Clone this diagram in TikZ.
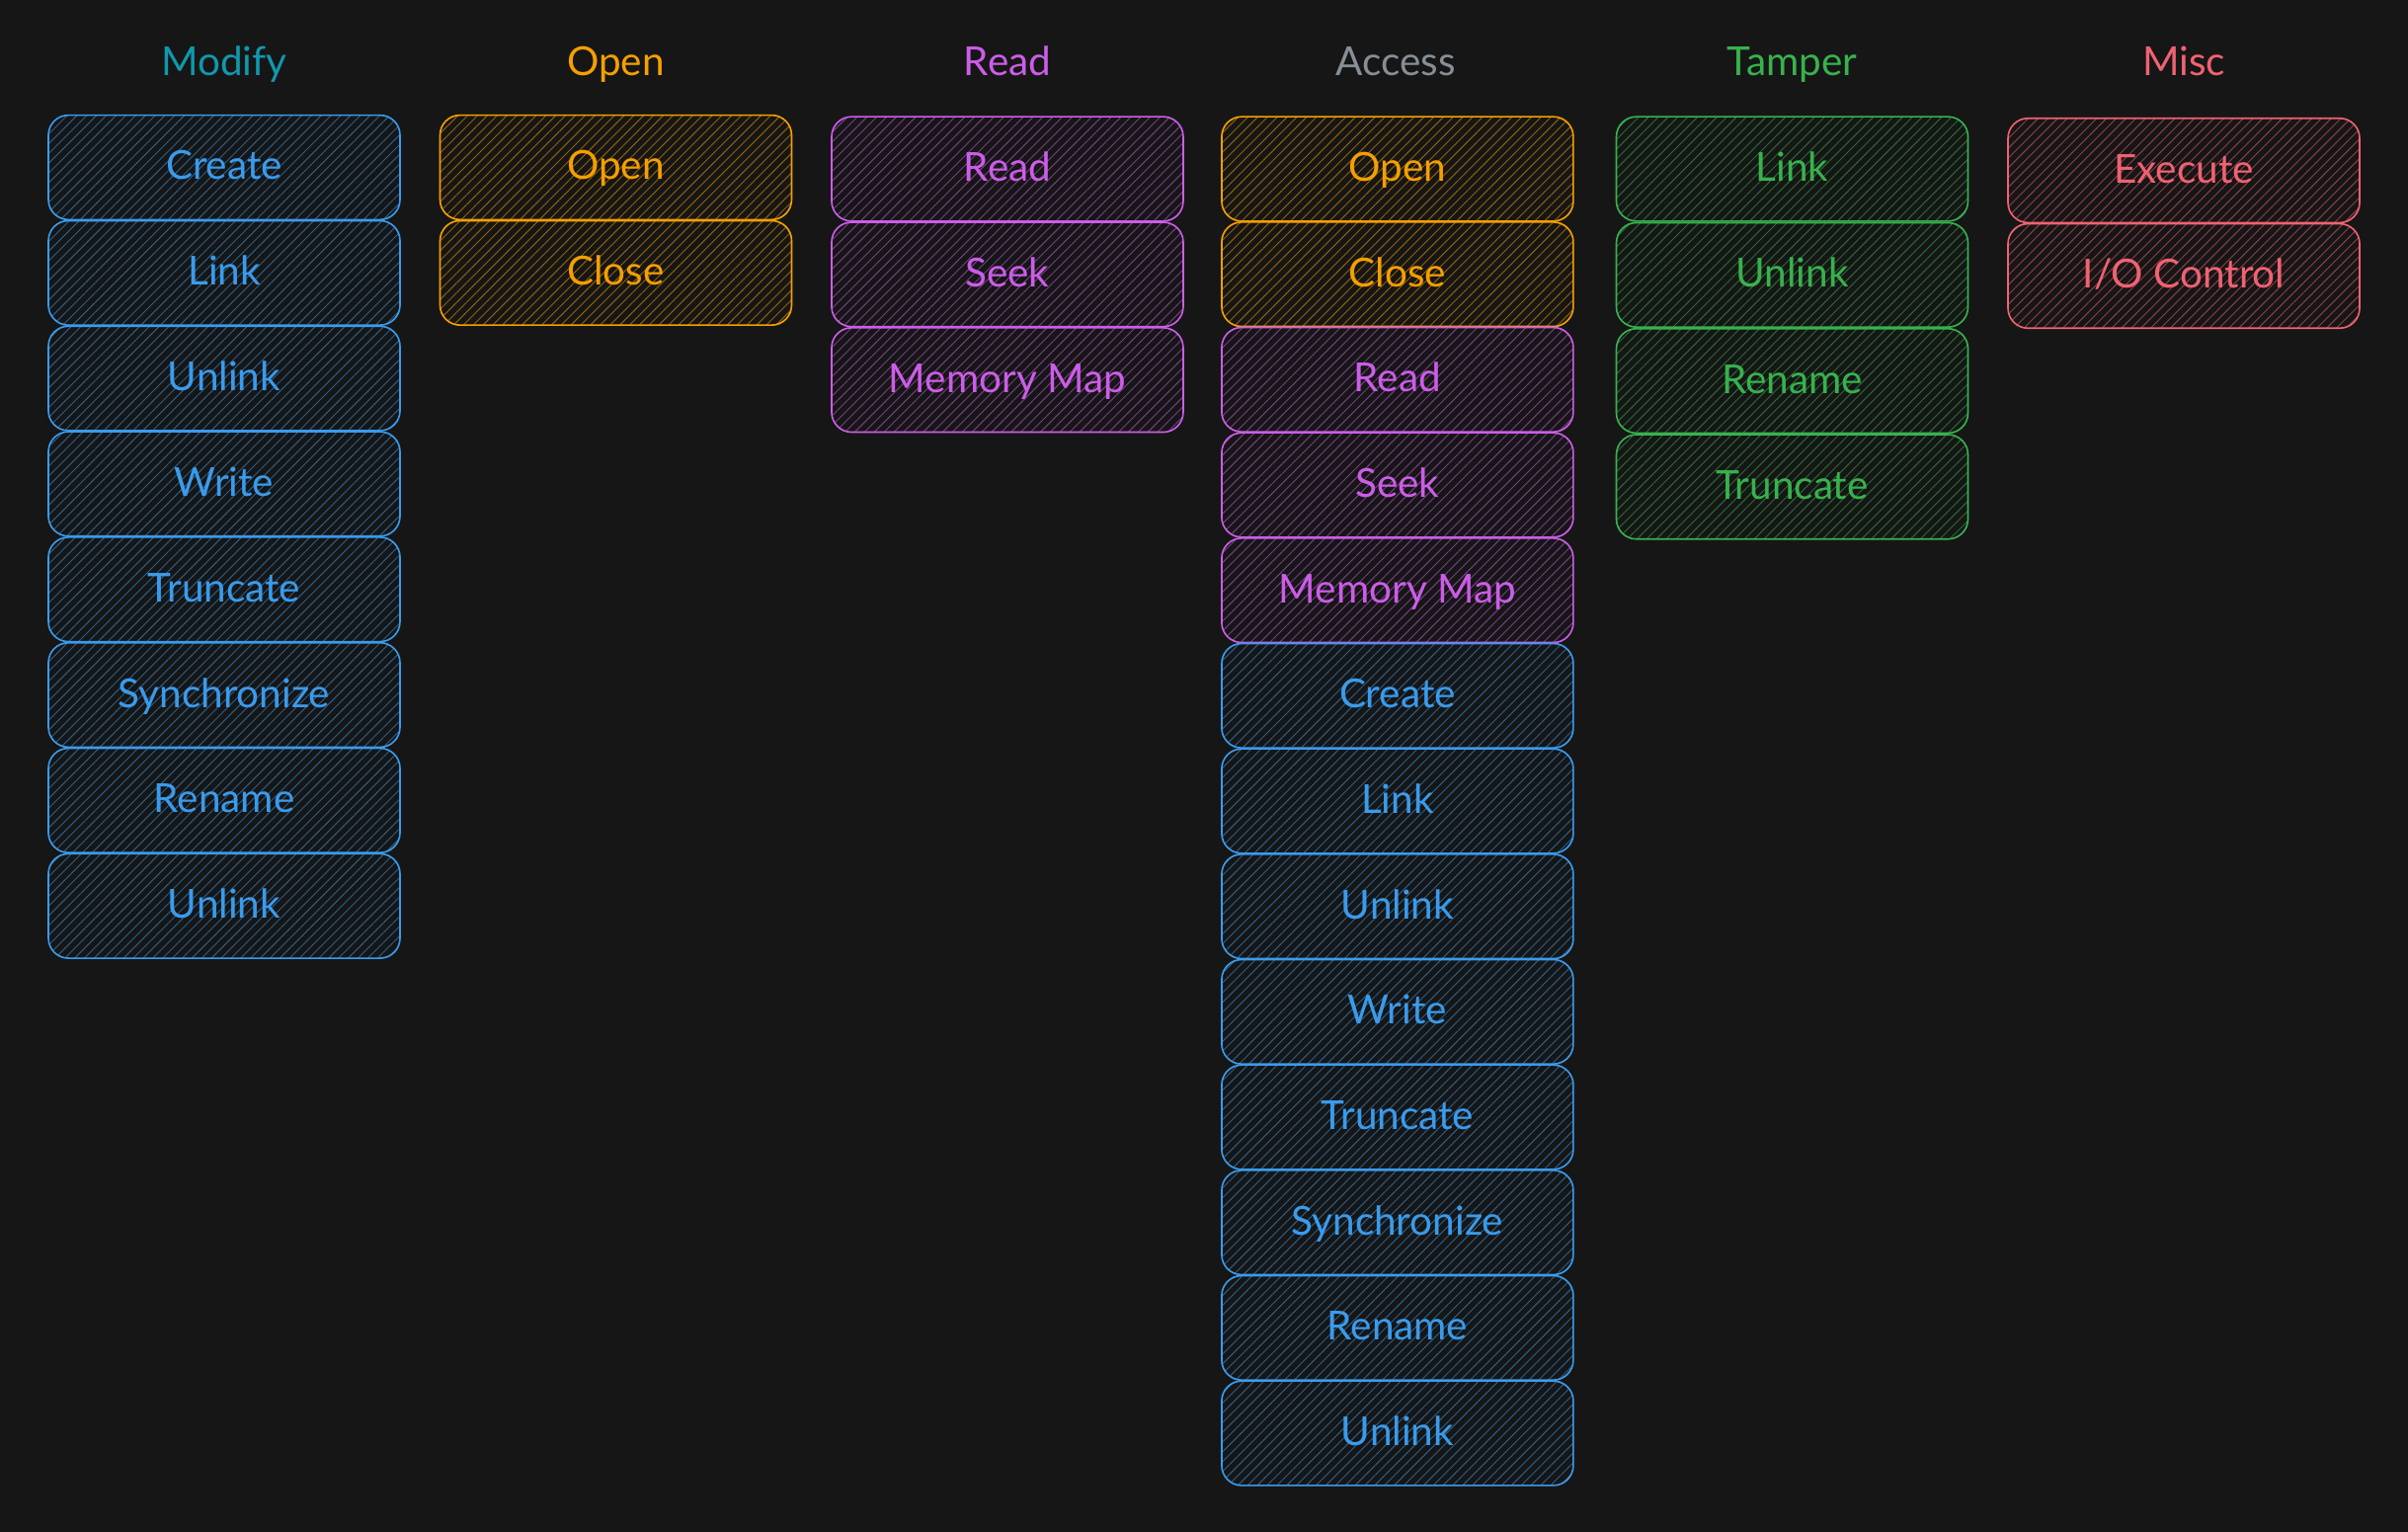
\documentclass[tikz,border=0pt]{standalone}
\usepackage{fontspec}
\setmainfont{Lato}
\usetikzlibrary{patterns.meta}

\definecolor{bgC}{HTML}{161616}
\definecolor{tealC}{HTML}{1098AD}
\definecolor{blueC}{HTML}{3A9BEC}
\definecolor{orangeC}{HTML}{F59F00}
\definecolor{purpleC}{HTML}{CC5DE8}
\definecolor{grayC}{HTML}{868E96}
\definecolor{greenC}{HTML}{37B24D}
\definecolor{redC}{HTML}{F06272}

\tikzset{
  title/.style={text=#1, font=\fontsize{14.8}{17}\selectfont,
    text height=1.8ex, text depth=0ex},
  item/.style={draw=#1, text=#1, line width=0.6pt,
    rounded corners=0.26cm, minimum width=4.58cm, minimum height=1.36cm,
    text height=1.8ex, text depth=0ex,
    pattern={Lines[angle=45,distance=0.9mm,line width=0.35pt]},
    pattern color=#1!55!bgC,
    font=\fontsize{14.8}{17}\selectfont},
}

\begin{document}
\begin{tikzpicture}[x=0.02cm,y=-0.02cm]
    % Background
    \useasboundingbox (0,0) rectangle (1568,997);
    \fill[bgC] (-10,-10) rectangle (1580,1010);
    % Titles
    \node[title=tealC]   (tmod) at (146,41) {Modify};
    \node[title=orangeC] (topn) at (401,41) {Open};
    \node[title=purpleC] (trd)  at (656,41) {Read};
    \node[title=grayC]   (tacc) at (909,41) {Access};
    \node[title=greenC]  (ttmp) at (1167,41) {Tamper};
    \node[title=redC]    (tmsc) at (1422,41) {Misc};
    % Modify
    \foreach \t [count=\i] in {Create,Link,Unlink,Write,Truncate,Synchronize,Rename,Unlink}
      \node[item=blueC] (mod\i) at (146,{109+(\i-1)*68.7}) {\t};
    % Open
    \foreach \t [count=\i] in {Open,Close}
      \node[item=orangeC] (opn\i) at (401,{109+(\i-1)*68.7}) {\t};
    % Read
    \foreach \t [count=\i] in {Read,Seek,Memory Map}
      \node[item=purpleC] (rd\i) at (656,{110+(\i-1)*68.7}) {\t};
    % Access
    \foreach \t/\c [count=\i] in {Open/orangeC,Close/orangeC,Read/purpleC,Seek/purpleC,
        Memory Map/purpleC,Create/blueC,Link/blueC,Unlink/blueC,Write/blueC,
        Truncate/blueC,Synchronize/blueC,Rename/blueC,Unlink/blueC}
      \node[item=\c] (acc\i) at (910,{110+(\i-1)*68.6}) {\t};
    % Tamper
    \foreach \t [count=\i] in {Link,Unlink,Rename,Truncate}
      \node[item=greenC] (tmp\i) at (1167,{110+(\i-1)*69}) {\t};
    % Misc
    \foreach \t [count=\i] in {Execute,I/O Control}
      \node[item=redC] (msc\i) at (1422,{111+(\i-1)*68.7}) {\t};
\end{tikzpicture}
\end{document}
